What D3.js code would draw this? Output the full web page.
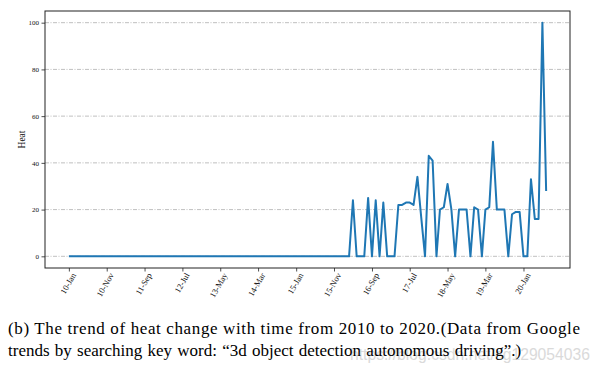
<!DOCTYPE html>
<html>
<head>
<meta charset="utf-8">
<script src="https://cdn.jsdelivr.net/npm/d3@7"></script>
<style>
  body { margin: 0; background: #fff; }
  svg { display: block; font-family: "Liberation Serif", "DejaVu Serif", serif; }
</style>
</head>
<body>
<div id="chart"></div>
<script>
// Google trends heat, monthly, 2010-Jan .. 2020-Jul
const START_MONTH = new Date(2010, 0, 1);
const END_MONTH   = new Date(2020, 6, 1);

const heat = [
  0, 0, 0, 0, 0, 0, 0, 0, 0, 0, 0, 0,   // 2010
  0, 0, 0, 0, 0, 0, 0, 0, 0, 0, 0, 0,   // 2011
  0, 0, 0, 0, 0, 0, 0, 0, 0, 0, 0, 0,   // 2012
  0, 0, 0, 0, 0, 0, 0, 0, 0, 0, 0, 0,   // 2013
  0, 0, 0, 0, 0, 0, 0, 0, 0, 0, 0, 0,   // 2014
  0, 0, 0, 0, 0, 0, 0, 0, 0, 0, 0, 0,   // 2015
  0, 0, 0, 24, 0, 0, 0, 25, 0, 24, 0, 23,        // 2016
  0, 0, 0, 22, 22, 23, 23, 22, 34, 17, 0, 43,    // 2017
  41, 0, 20, 21, 31, 20, 0, 20, 20, 20, 0, 21,   // 2018
  20, 0, 20, 21, 49, 20, 20, 20, 0, 18, 19, 19,  // 2019
  0, 0, 33, 16, 16, 100, 28                      // 2020
];

const xTickMonths = ['2010-01', '2010-11', '2011-09', '2012-07', '2013-05', '2014-03',
                     '2015-01', '2015-11', '2016-09', '2017-07', '2018-05', '2019-03', '2020-01'];
const yTicks = [0, 20, 40, 60, 80, 100];

const caption1 = '(b) The trend of heat change with time from 2010 to 2020.(Data from Google';
const caption2 = 'trends by searching key word: \u201c3d object detection autonomous driving\u201d.)';
const watermark = 'https://blog.csdn.net/cg129054036';

const W = 598, H = 370;
const margin = { top: 11, right: 28, bottom: 102, left: 45 };
const innerW = W - margin.left - margin.right;
const innerH = H - margin.top - margin.bottom;

const months = d3.timeMonth.range(START_MONTH, d3.timeMonth.offset(END_MONTH, 1));
const data = months.map((d, i) => ({ date: d, value: heat[i] }));

// matplotlib-like 5% margins
const pad = (END_MONTH - START_MONTH) * 0.05;
const xScale = d3.scaleTime()
  .domain([new Date(+START_MONTH - pad), new Date(+END_MONTH + pad)])
  .range([0, innerW]);
const yScale = d3.scaleLinear().domain([-5, 105]).range([innerH, 0]);

const svg = d3.select('#chart').append('svg').attr('width', W).attr('height', H);
const g = svg.append('g').attr('transform', `translate(${margin.left},${margin.top})`);

// grid (horizontal, dash-dot)
g.append('g')
  .selectAll('line')
  .data(yTicks)
  .join('line')
  .attr('x1', 0).attr('x2', innerW)
  .attr('y1', d => yScale(d)).attr('y2', d => yScale(d))
  .attr('stroke', '#b0b0b0').attr('stroke-width', 0.8)
  .attr('stroke-dasharray', '4,1.5,1,1.5');

// y axis
g.append('g')
  .call(d3.axisLeft(yScale).tickValues(yTicks).tickSize(3.5).tickPadding(2.5))
  .call(ax => ax.select('.domain').remove())
  .call(ax => ax.selectAll('.tick line').attr('stroke', '#222').attr('stroke-width', 0.8))
  .call(ax => ax.selectAll('text').attr('fill', '#111').style('font-size', '7px')
    .style('font-family', '"Liberation Serif", serif'));

g.append('text')
  .attr('transform', 'rotate(-90)').attr('x', -yScale(50)).attr('y', -20)
  .attr('text-anchor', 'middle').attr('fill', '#111').style('font-size', '9.5px')
  .text('Heat');

// x axis
const parseMonth = d3.timeParse('%Y-%m');
g.append('g')
  .attr('transform', `translate(0,${innerH})`)
  .call(d3.axisBottom(xScale)
    .tickValues(xTickMonths.map(parseMonth))
    .tickFormat(d3.timeFormat('%y-%b'))
    .tickSize(3.5).tickPadding(0))
  .call(ax => ax.select('.domain').remove())
  .call(ax => ax.selectAll('.tick line').attr('stroke', '#222').attr('stroke-width', 0.8))
  .call(ax => ax.selectAll('text')
    .attr('fill', '#111').style('font-size', '8.5px')
    .style('font-family', '"Liberation Serif", serif')
    .attr('dy', 0).attr('y', 0)
    .attr('text-anchor', 'end')
    .attr('transform', 'translate(7,7) rotate(-60)'));

// line
g.append('path')
  .datum(data)
  .attr('fill', 'none')
  .attr('stroke', '#1f77b4')
  .attr('stroke-width', 2)
  .attr('stroke-linejoin', 'round')
  .attr('d', d3.line().x(d => xScale(d.date)).y(d => yScale(d.value)));

// frame
g.append('rect')
  .attr('width', innerW).attr('height', innerH)
  .attr('fill', 'none').attr('stroke', '#222').attr('stroke-width', 1);

// caption
svg.append('text')
  .attr('x', W - 8).attr('y', 360)
  .attr('text-anchor', 'end')
  .attr('fill', '#dadada').style('font-family', '"Liberation Sans", sans-serif')
  .style('font-size', '17px')
  .attr('textLength', 240).attr('lengthAdjust', 'spacingAndGlyphs')
  .text(watermark);

svg.append('text')
  .attr('x', 8).attr('y', 334)
  .attr('fill', '#000').style('font-size', '17px')
  .attr('textLength', 572).attr('lengthAdjust', 'spacing')
  .text(caption1);

svg.append('text')
  .attr('x', 8).attr('y', 356)
  .attr('fill', '#000').style('font-size', '17px')
  .attr('word-spacing', '1px')
  .text(caption2);
</script>
</body>
</html>
